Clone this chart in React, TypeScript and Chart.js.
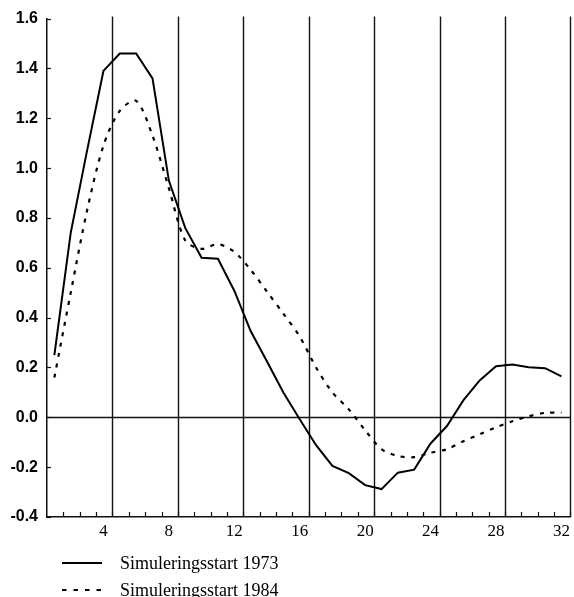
import React, { useEffect, useRef } from "react";
import { Chart, registerables } from "chart.js";

Chart.register(...registerables);

// quarter index (1..32)
const quarters = [1, 2, 3, 4, 5, 6, 7, 8, 9, 10, 11, 12, 13, 14, 15, 16, 17, 18, 19, 20, 21, 22, 23, 24, 25, 26, 27, 28, 29, 30, 31, 32];

const sim1973 = [
  0.25, 0.74, 1.07, 1.39, 1.46, 1.46, 1.36, 0.95, 0.76, 0.64, 0.636, 0.508,
  0.346, 0.224, 0.1, -0.008, -0.112, -0.195, -0.224, -0.272, -0.288, -0.222,
  -0.21, -0.105, -0.035, 0.068, 0.148, 0.205, 0.212, 0.201, 0.197, 0.164,
];

const sim1984 = [
  0.16, 0.5, 0.83, 1.09, 1.23, 1.27, 1.13, 0.92, 0.71, 0.676, 0.695, 0.664,
  0.592, 0.504, 0.416, 0.324, 0.2, 0.1, 0.032, -0.052, -0.128, -0.155,
  -0.16, -0.142, -0.128, -0.096, -0.068, -0.04, -0.016, 0.004, 0.018, 0.019,
];

const seriesLabels = ["Simuleringsstart 1973", "Simuleringsstart 1984"];
const xTickValues = [4, 8, 12, 16, 20, 24, 28, 32];
const yTickValues = [-0.4, -0.2, 0.0, 0.2, 0.4, 0.6, 0.8, 1.0, 1.2, 1.4, 1.6];

// quarter boundaries are offset from the quarter index
const BOUNDARY_OFFSET = 0.55;

const decorPlugin = {
  id: "decor",
  beforeDatasetsDraw(chart: any) {
    const { ctx, chartArea, scales } = chart;
    const x = scales.x;
    const y = scales.y;
    ctx.save();
    ctx.strokeStyle = "#111";
    ctx.setLineDash([]);
    // vertical grid lines every 4 quarters
    ctx.lineWidth = 1.4;
    for (const q of xTickValues) {
      const px = Math.round(x.getPixelForValue(q + BOUNDARY_OFFSET)) + 0.5;
      ctx.beginPath();
      ctx.moveTo(px, chartArea.top - 2);
      ctx.lineTo(px, chartArea.bottom);
      ctx.stroke();
    }
    // zero line
    ctx.lineWidth = 1.3;
    const zy = Math.round(y.getPixelForValue(0)) + 0.5;
    ctx.beginPath();
    ctx.moveTo(chartArea.left, zy);
    ctx.lineTo(chartArea.right, zy);
    ctx.stroke();
    // minor ticks on x axis (every quarter boundary)
    ctx.lineWidth = 1.2;
    for (const q of quarters) {
      const px = Math.round(x.getPixelForValue(q + BOUNDARY_OFFSET)) + 0.5;
      ctx.beginPath();
      ctx.moveTo(px, chartArea.bottom);
      ctx.lineTo(px, chartArea.bottom - 5);
      ctx.stroke();
    }
    // y ticks inside
    for (const v of yTickValues) {
      const py = Math.round(y.getPixelForValue(v)) + 0.5;
      ctx.beginPath();
      ctx.moveTo(chartArea.left, py);
      ctx.lineTo(chartArea.left + 4, py);
      ctx.stroke();
    }
    ctx.restore();
  },
  afterDraw(chart: any) {
    const { ctx, chartArea } = chart;
    ctx.save();
    const rows = [46, 73];
    chart.data.datasets.forEach((ds: any, i: number) => {
      const yy = chartArea.bottom + rows[i];
      ctx.strokeStyle = "#000";
      ctx.lineWidth = 2;
      ctx.setLineDash(ds.borderDash && ds.borderDash.length ? [4.5, 7] : []);
      ctx.beginPath();
      ctx.moveTo(62, yy);
      ctx.lineTo(102, yy);
      ctx.stroke();
      ctx.setLineDash([]);
      ctx.fillStyle = "#000";
      ctx.font = "18px 'Liberation Serif', 'Times New Roman', serif";
      ctx.textBaseline = "middle";
      ctx.textAlign = "left";
      ctx.fillText(ds.label, 120, yy + 1);
    });
    ctx.restore();
  },
};

export default function App() {
  const canvasRef = useRef<HTMLCanvasElement | null>(null);

  useEffect(() => {
    const canvas = canvasRef.current;
    if (!canvas) return;
    const chart = new Chart(canvas, {
      type: "line",
      data: {
        datasets: [
          {
            label: seriesLabels[0],
            data: quarters.map((q, i) => ({ x: q, y: sim1973[i] })),
            borderColor: "#000",
            borderWidth: 2,
            pointRadius: 0,
            tension: 0,
            fill: false,
          },
          {
            label: seriesLabels[1],
            data: quarters.map((q, i) => ({ x: q, y: sim1984[i] })),
            borderColor: "#000",
            borderWidth: 2.2,
            borderDash: [4, 6.5],
            pointRadius: 0,
            tension: 0.3,
            fill: false,
          },
        ],
      },
      options: {
        animation: false,
        responsive: false,
        devicePixelRatio: 1,
        layout: { padding: { top: 17, right: 3, left: 0, bottom: 0 } },
        plugins: {
          legend: { display: false },
          tooltip: { enabled: false },
        },
        scales: {
          x: {
            type: "linear",
            min: quarters[0] - 1 + BOUNDARY_OFFSET,
            max: quarters[quarters.length - 1] + BOUNDARY_OFFSET,
            afterBuildTicks: (scale: any) => {
              scale.ticks = xTickValues.map((v) => ({ value: v }));
            },
            afterFit: (scale: any) => {
              scale.height = 80;
            },
            grid: { display: false, drawTicks: false },
            border: { display: true, color: "#111", width: 1.5 },
            ticks: {
              autoSkip: false,
              maxRotation: 0,
              minRotation: 0,
              padding: 4,
              color: "#000",
              font: { family: "'Liberation Serif', 'Times New Roman', serif", size: 17 },
              callback: (v: any) => String(v),
            },
          },
          y: {
            type: "linear",
            min: yTickValues[0],
            max: yTickValues[yTickValues.length - 1],
            afterBuildTicks: (scale: any) => {
              scale.ticks = yTickValues.map((v) => ({ value: v }));
            },
            afterFit: (scale: any) => {
              scale.width = 47;
            },
            grid: { display: false, drawTicks: false },
            border: { display: true, color: "#111", width: 1.5 },
            ticks: {
              padding: 9,
              color: "#000",
              font: { family: "'Liberation Sans', Arial, sans-serif", size: 16, weight: "bold" },
              callback: (v: any) => Number(v).toFixed(1),
            },
          },
        },
      },
      plugins: [decorPlugin],
    });
    return () => chart.destroy();
  }, []);

  return (
    <div style={{ position: "fixed", left: 0, top: 0, width: 574, height: 597, background: "#fff" }}>
      <canvas ref={canvasRef} width={574} height={597} style={{ display: "block" }} />
    </div>
  );
}
